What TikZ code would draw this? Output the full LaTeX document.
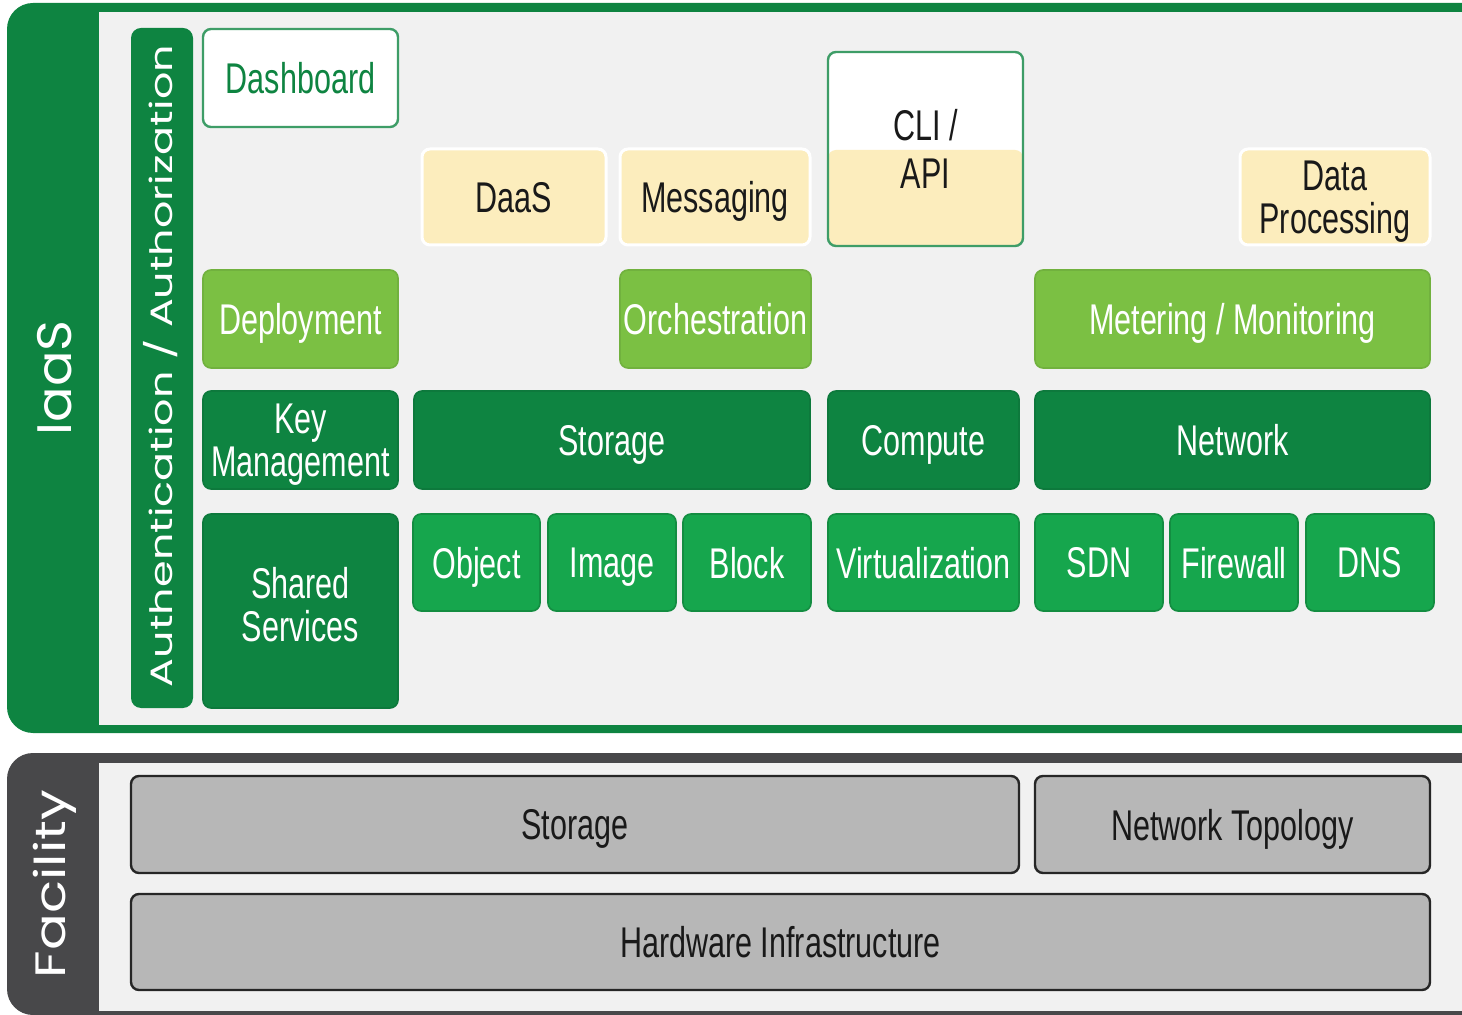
\documentclass[tikz,border=0pt]{standalone}
\usepackage{fontspec}
\setmainfont{Liberation Sans}[FakeStretch=0.71]
\newfontfamily\geo{Poppins}
\definecolor{dkgreen}{RGB}{14,132,65}
\definecolor{mdgreen}{RGB}{22,166,77}
\definecolor{ltgreen}{RGB}{123,192,67}
\definecolor{pale}{RGB}{252,237,189}
\definecolor{panel}{RGB}{241,241,241}
\definecolor{gyfill}{RGB}{183,183,183}
\definecolor{dkgray}{RGB}{72,72,74}
\definecolor{txt}{RGB}{25,25,25}
\tikzset{
  lbl/.style={font=\fontsize{21.5}{21.5}\selectfont, align=center, inner sep=0pt, text depth=0pt},
  box/.style={rounded corners=4pt, line width=0.8pt, lbl},
  dkbox/.style={box, fill=dkgreen, draw=dkgreen!92!black, text=white},
  mdbox/.style={box, fill=mdgreen, draw=mdgreen!85!black, text=white},
  ltbox/.style={box, fill=ltgreen, draw=ltgreen!92!black, text=white},
  ylbox/.style={box, fill=pale, draw=white, line width=1.5pt, text=txt},
  whbox/.style={box, fill=white, draw=dkgreen!80, line width=1.2pt},
  gybox/.style={box, fill=gyfill, draw=black!85, line width=1.2pt, text=txt},
  vlabel/.style={rotate=90, text=white, inner sep=0pt}
}
\newcommand\mkbox[7]{\node[#6, minimum width={(#4-#2)*0.5pt}, minimum height={(#5-#3)*0.5pt}] (#1) at ({(#2+#4)/2},{(#3+#5)/2}) {#7};}
\begin{document}
\begin{tikzpicture}[x=0.5pt,y=-0.5pt]
\useasboundingbox (0,0) rectangle (1462,1015);
\clip (0,0) rectangle (1462,1015);
% IaaS frame
\fill[dkgreen, rounded corners=13pt] (7,3) rectangle (1500,733);
\fill[panel] (99,12) rectangle (1500,725);
\node[vlabel] (iaas) at (55,378) {\scalebox{1}[0.92]{\resizebox{57.5pt}{!}{\geo IaaS}}};
\fill[dkgreen, rounded corners=5pt] (131,28) rectangle (193,708);
\node[vlabel] (auth) at (161,366) {\scalebox{1}[0.72]{\resizebox{321pt}{!}{\geo Authentication / Authorization}}};
% Facility frame
\fill[dkgray, rounded corners=13pt] (7,753) rectangle (1500,1015);
\fill[panel] (99,763) rectangle (1500,1011);
\node[vlabel] (facility) at (55,884) {\scalebox{1}[0.78]{\resizebox{94pt}{!}{\geo Facility}}};
% Row 0/1
\mkbox{dash}{203}{29}{398}{127}{whbox, text=dkgreen}{Dashboard}
\mkbox{daas}{422}{149}{606}{245}{ylbox}{DaaS}
\mkbox{msg}{620}{149}{810}{245}{ylbox}{Messaging}
\mkbox{cli}{828}{52}{1023}{246}{whbox, text=txt, font=\fontsize{21.5}{24}\selectfont, path picture={\fill[pale] (path picture bounding box.south west) rectangle ([yshift=-0.5pt]path picture bounding box.east);}}{CLI /\\API}
\mkbox{dp}{1240}{149}{1430}{245}{ylbox}{Data\\Processing}
% Row 2
\mkbox{deploy}{203}{270}{398}{368}{ltbox}{Deployment}
\mkbox{orch}{620}{270}{811}{368}{ltbox}{Orchestration}
\mkbox{meter}{1035}{270}{1430}{368}{ltbox}{Metering / Monitoring}
% Row 3
\mkbox{key}{203}{391}{398}{489}{dkbox}{Key\\Management}
\mkbox{stor}{414}{391}{810}{489}{dkbox}{Storage}
\mkbox{comp}{828}{391}{1019}{489}{dkbox}{Compute}
\mkbox{net}{1035}{391}{1430}{489}{dkbox}{Network}
% Row 4
\node[dkbox, minimum width=97.5pt, minimum height=97pt] (shared) at (300.5,611) {};
\node[lbl, text=white] (sharedtxt) at (300.5,604.5) {Shared\\Services};
\mkbox{obj}{413}{514}{540}{611}{mdbox}{Object}
\mkbox{img}{548}{514}{676}{611}{mdbox}{Image}
\mkbox{blk}{683}{514}{811}{611}{mdbox}{Block}
\mkbox{virt}{828}{514}{1019}{611}{mdbox}{Virtualization}
\mkbox{sdn}{1035}{514}{1163}{611}{mdbox}{SDN}
\mkbox{fw}{1170}{514}{1298}{611}{mdbox}{Firewall}
\mkbox{dns}{1306}{514}{1434}{611}{mdbox}{DNS}
% Facility boxes
\mkbox{fstor}{131}{776}{1019}{873}{gybox}{Storage}
\mkbox{ftopo}{1035}{776}{1430}{873}{gybox}{Network Topology}
\mkbox{fhw}{131}{894}{1430}{990}{gybox}{Hardware Infrastructure}
\end{tikzpicture}
\end{document}
